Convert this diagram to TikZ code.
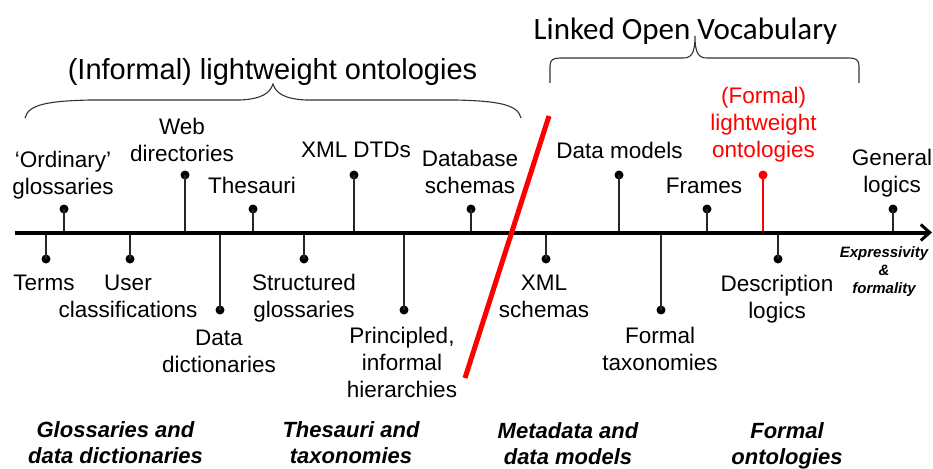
\documentclass[tikz,border=0pt]{standalone}
\usepackage{fontspec}
\setmainfont{Liberation Sans}
\newfontfamily\calibri{Carlito}
\usetikzlibrary{arrows.meta}
\definecolor{hired}{RGB}{255,0,0}
\begin{document}
\begin{tikzpicture}[x=1pt,y=-1pt,
  lbl/.style={font=\fontsize{22.5}{27}\selectfont, inner sep=0pt, align=center, anchor=base},
  catlbl/.style={font=\fontsize{22}{26}\selectfont\bfseries\itshape, inner sep=0pt, align=center, anchor=base},
  smalllbl/.style={font=\fontsize{15}{18}\selectfont\bfseries\itshape, inner sep=0pt, align=center, anchor=base},
  pin/.style={circle, fill=black, inner sep=0pt, minimum size=9pt},
  redpin/.style={circle, fill=hired, inner sep=0pt, minimum size=9pt},
  stem/.style={line width=1.2pt, draw=black!85},
  redstem/.style={line width=1.2pt, draw=hired},
  axisline/.style={line width=4pt, -{Straight Barb[length=9pt,width=16pt,line width=3pt]}},
  bracestyle/.style={line width=1.1pt, draw=black!80},
  divider/.style={line width=5pt, draw=hired}]
\useasboundingbox (0,0) rectangle (933,468);

% titles
\node[font=\fontsize{29}{34}\selectfont, inner sep=0pt, anchor=base] (tinf) at (272.5,80) {(Informal) lightweight ontologies};
\node[font=\calibri\fontsize{31}{36}\selectfont, inner sep=0pt, anchor=base] (tlov) at (685.5,40) {Linked Open Vocabulary};

% braces
\draw[bracestyle] (25,118) .. controls (28,104) and (50,101) .. (90,100) -- (240,100) .. controls (262,99) and (270,93) .. (273,84)
  .. controls (276,93) and (284,99) .. (306,100) -- (456,100) .. controls (496,101) and (518,104) .. (521,118);
\draw[bracestyle] (550,83) -- (550,66) .. controls (550,60) and (553,58) .. (560,58) -- (683,58) .. controls (691,58) and (695,54) .. (695,36)
  .. controls (695,54) and (699,58) .. (707,58) -- (849,58) .. controls (856,58) and (859,60) .. (859,66) -- (859,83);

% axis
\coordinate (axs) at (15,232.5);
\coordinate (axe) at (932,232.5);

% upper pins
\coordinate (a1) at (64,232.5);  \node[pin] (p1) at (64,209) {};
\coordinate (a2) at (185,232.5); \node[pin] (p2) at (185,175) {};
\coordinate (a3) at (253,232.5); \node[pin] (p3) at (253,209) {};
\coordinate (a4) at (354,232.5); \node[pin] (p4) at (354,175) {};
\coordinate (a5) at (471,232.5); \node[pin] (p5) at (471,209) {};
\coordinate (a6) at (619,232.5); \node[pin] (p6) at (619,175) {};
\coordinate (a7) at (707,232.5); \node[pin] (p7) at (707,209) {};
\coordinate (a8) at (763,232.5); \node[redpin] (p8) at (763,175) {};
\coordinate (a9) at (893,232.5); \node[pin] (p9) at (893,209) {};

% lower pins
\coordinate (b1) at (46,232.5);  \node[pin] (q1) at (46,259) {};
\coordinate (b2) at (130,232.5); \node[pin] (q2) at (130,259) {};
\coordinate (b3) at (220,232.5); \node[pin] (q3) at (220,310) {};
\coordinate (b4) at (304,232.5); \node[pin] (q4) at (304,259) {};
\coordinate (b5) at (404,232.5); \node[pin] (q5) at (404,310) {};
\coordinate (b6) at (546,232.5); \node[pin] (q6) at (546,259) {};
\coordinate (b7) at (661,232.5); \node[pin] (q7) at (661,310) {};
\coordinate (b8) at (778,232.5); \node[pin] (q8) at (778,259) {};

\foreach \i in {1,2,3,4,5,6,7,9} {\draw[stem] (a\i) -- (p\i.center);}
\draw[redstem] (a8) -- (p8.center);
\foreach \i in {1,...,8} {\draw[stem] (b\i) -- (q\i.center);}

\draw[axisline] (axs) -- (axe);

% upper labels (anchor base = baseline of last line)
\node[lbl] (l1) at (63,194) {‘Ordinary’\\glossaries};
\node[lbl] (l2) at (182,161) {Web\\directories};
\node[lbl] (l3) at (252,193) {Thesauri};
\node[lbl] (l4) at (356,157) {XML DTDs};
\node[lbl] (l5) at (470,193) {Database\\schemas};
\node[lbl] (l6) at (619.5,158) {Data models};
\node[lbl] (l7) at (704,193) {Frames};
\node[lbl, text=hired] (l8) at (763.5,157) {(Formal)\\lightweight\\ontologies};
\node[lbl] (l9) at (892,192) {General\\logics};

% lower labels
\node[lbl] (m1) at (44,290) {Terms};
\node[lbl] (m2) at (128,317) {User\\classifications};
\node[lbl] (m3) at (219,372) {Data\\dictionaries};
\node[lbl] (m4) at (304,317) {Structured\\glossaries};
\node[lbl] (m5) at (402,397) {Principled,\\informal\\hierarchies};
\node[lbl] (m6) at (544,317) {XML\\schemas};
\node[lbl] (m7) at (660,370) {Formal\\taxonomies};
\node[lbl] (m8) at (777,318) {Description\\logics};
\node[smalllbl] (ex) at (884,293) {Expressivity\\\&\\formality};

% categories
\node[catlbl] (c1) at (115.5,463) {Glossaries and\\data dictionaries};
\node[catlbl] (c2) at (351,463) {Thesauri and\\taxonomies};
\node[catlbl] (c3) at (568,464) {Metadata and\\data models};
\node[catlbl] (c4) at (787,464) {Formal\\ontologies};

% red divider
\coordinate (r1) at (549,116);
\coordinate (r2) at (465,378);
\draw[divider] (r1) -- (r2);
\end{tikzpicture}
\end{document}
